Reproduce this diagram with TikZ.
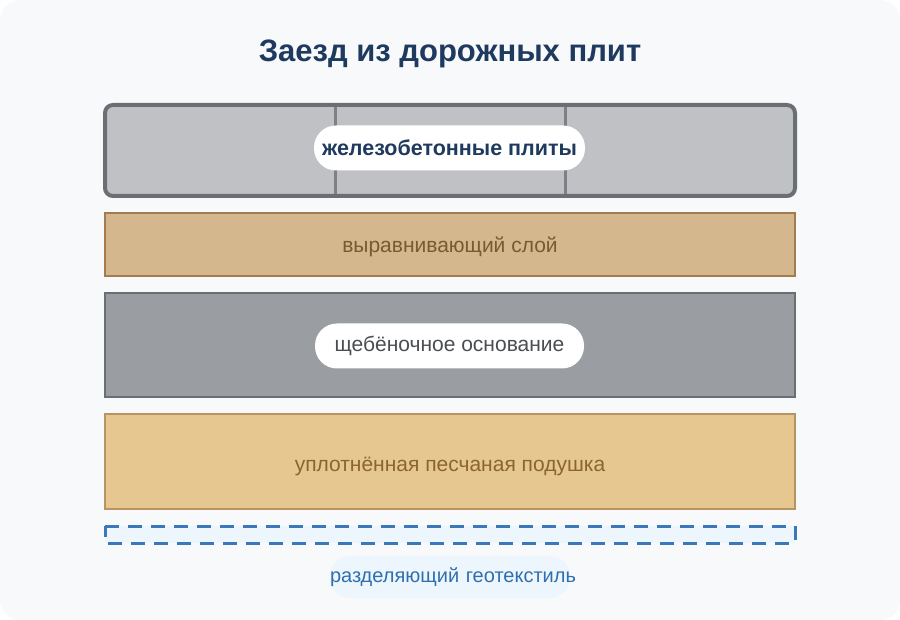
\documentclass[tikz,border=0pt]{standalone}
\usepackage{fontspec}
\setmainfont{Liberation Sans}
\definecolor{bgc}{HTML}{F7F9FB}
\definecolor{navy}{HTML}{1F3A5F}
\definecolor{slabfill}{HTML}{C0C1C4}
\definecolor{slabdraw}{HTML}{6B6E73}
\definecolor{slabdiv}{HTML}{7D8084}
\definecolor{levfill}{HTML}{D4B78C}
\definecolor{levdraw}{HTML}{A47B4F}
\definecolor{levtext}{HTML}{7A5A30}
\definecolor{gravfill}{HTML}{9A9EA2}
\definecolor{gravdraw}{HTML}{6B6F73}
\definecolor{gravtext}{HTML}{4A4D52}
\definecolor{sandfill}{HTML}{E7C790}
\definecolor{sanddraw}{HTML}{B89465}
\definecolor{sandtext}{HTML}{8A6530}
\definecolor{geodraw}{HTML}{3A78BA}
\definecolor{geofill}{HTML}{EEF6FD}
\definecolor{geotext}{HTML}{2F6FB0}
\tikzset{
  layer/.style={line width=2.5pt},
  pill/.style={fill=white, rounded corners=22pt, inner sep=0pt, minimum height=45pt},
  lbl/.style={font=\fontsize{21pt}{24pt}\selectfont},
}
\begin{document}
\begin{tikzpicture}[x=1pt,y=-1pt]
\useasboundingbox (0,0) rectangle (900,620);
\fill[bgc, rounded corners=20pt] (0,0) rectangle (900,620);
\node[font=\fontsize{31pt}{36pt}\selectfont\bfseries, text=navy] (title) at (450,53.5) {Заезд из дорожных плит};
% slabs
\draw[line width=4pt, draw=slabdraw, fill=slabfill, rounded corners=8pt] (105,105) rectangle (795,196);
\coordinate (d1t) at (335,107); \coordinate (d1b) at (335,194);
\coordinate (d2t) at (565,107); \coordinate (d2b) at (565,194);
\draw[line width=3pt, slabdiv] (d1t) -- (d1b);
\draw[line width=3pt, slabdiv] (d2t) -- (d2b);
\node[pill, minimum width=271pt, font=\fontsize{21.5pt}{24pt}\selectfont\bfseries, text=navy] (slabs) at (449.5,148) {\raisebox{-1.5pt}{железобетонные плиты}};
% leveling
\draw[layer, draw=levdraw, fill=levfill] (105,213) rectangle (795,276);
\node[lbl, text=levtext] (lev) at (450,246.5) {выравнивающий слой};
% gravel
\draw[layer, draw=gravdraw, fill=gravfill] (105,293) rectangle (795,397);
\node[pill, minimum width=269pt, lbl, text=gravtext] (grav) at (449.5,346) {\raisebox{-1.5pt}{щебёночное основание}};
% sand
\draw[layer, draw=sanddraw, fill=sandfill] (105,414) rectangle (795,509);
\node[lbl, text=sandtext] (sand) at (450,466.5) {уплотнённая песчаная подушка};
% geotextile
\fill[geofill] (105,526) rectangle (795,543);
\draw[line width=3pt, draw=geodraw, dash pattern=on 14pt off 9pt] (105,526) -- (795,526) -- (795,543) -- (105,543) -- cycle;
\node[fill=geofill, rounded corners=20pt, inner xsep=0pt, text width=240pt, align=center, minimum height=42pt, font=\fontsize{20pt}{24pt}\selectfont, text=geotext] (geo) at (450,577) {\raisebox{-1.5pt}{разделяющий геотекстиль}};
\end{tikzpicture}
\end{document}
